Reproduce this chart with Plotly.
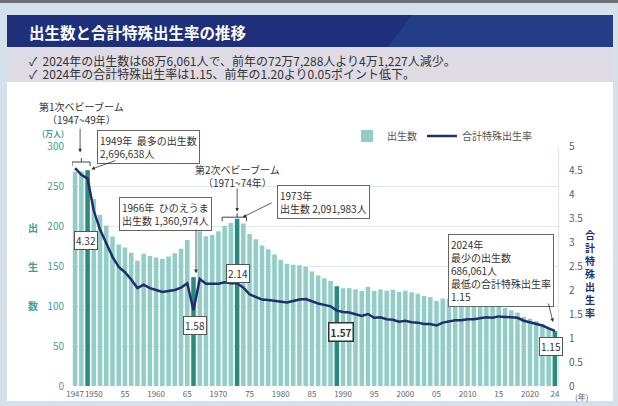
import plotly.graph_objects as go

# ---------------- data ----------------
years = list(range(1947, 2025))
births = [267.9, 268.2, 269.7, 233.8, 213.8, 200.5, 186.8, 177.0, 173.1, 166.5,
          156.7, 165.3, 162.6, 160.6, 158.9, 161.9, 166.0, 171.7, 182.4, 136.1,
          193.5, 187.2, 188.9, 193.4, 200.1, 203.9, 209.2, 203.0, 190.1, 183.3,
          175.5, 170.9, 164.3, 157.7, 152.9, 151.5, 150.9, 149.0, 143.2, 138.3,
          134.7, 131.4, 124.7, 122.2, 122.3, 120.9, 118.8, 123.8, 118.7, 120.7,
          119.2, 120.3, 117.8, 119.1, 117.1, 115.4, 112.4, 111.1, 106.3, 109.3,
          109.0, 109.1, 107.0, 107.1, 105.1, 103.7, 103.0, 100.4, 100.6, 97.7,
          94.6, 91.8, 86.5, 84.1, 81.2, 77.1, 72.7, 68.6]
tfr = [4.54, 4.40, 4.32, 3.65, 3.26, 2.98, 2.69, 2.48, 2.37, 2.22,
       2.04, 2.11, 2.04, 2.00, 1.96, 1.98, 2.00, 2.05, 2.14, 1.58,
       2.23, 2.13, 2.13, 2.13, 2.16, 2.14, 2.14, 2.05, 1.91, 1.85,
       1.80, 1.79, 1.77, 1.75, 1.74, 1.77, 1.80, 1.81, 1.76, 1.72,
       1.69, 1.66, 1.57, 1.54, 1.53, 1.50, 1.46, 1.50, 1.42, 1.43,
       1.39, 1.38, 1.34, 1.36, 1.33, 1.32, 1.29, 1.29, 1.26, 1.32,
       1.34, 1.37, 1.37, 1.39, 1.39, 1.41, 1.43, 1.42, 1.45, 1.44,
       1.43, 1.42, 1.36, 1.33, 1.30, 1.26, 1.20, 1.15]
highlight_years = [1949, 1966, 1973, 1989, 2024]
tick_vals = [1947, 1950, 1955, 1960, 1965, 1970, 1975, 1980, 1985, 1990,
             1995, 2000, 2005, 2010, 2015, 2020, 2024]
tick_text = ['1947', '1950', '55', '1960', '65', '1970', '75', '1980', '85', '1990',
             '95', '2000', '05', '2010', '15', '2020', '24']
left_ticks = [0, 50, 100, 150, 200, 250, 300]
right_ticks = [0, 0.5, 1, 1.5, 2, 2.5, 3, 3.5, 4, 4.5, 5]

# ---------------- style ----------------
FONT = "Noto Sans CJK JP"
LIGHT = "#92cdc7"
DARK = "#2a8a7c"
NAVY = "#1f2e6c"
TEAL_TXT = "#3f9f95"
TXT = "#333333"

L, R, T, B = 72, 60, 146, 20
W, H = 618, 406
PW, PH = W - L - R, H - T - B


def px(x):
    return (x - L) / PW


def py(y):
    return (H - B - y) / PH


colors = [DARK if y in highlight_years else LIGHT for y in years]

fig = go.Figure()
fig.add_trace(go.Bar(x=years, y=births, name="出生数", marker=dict(color=colors, line_width=0),
                     yaxis="y"))
fig.add_trace(go.Scatter(x=years, y=tfr, name="合計特殊出生率", mode="lines",
                         line=dict(color=NAVY, width=2.5), yaxis="y2"))

shapes = []
# page decorations
shapes.append(dict(type="rect", xref="paper", yref="paper", x0=px(7), x1=px(613), y0=py(401), y1=py(82),
                   fillcolor="white", line_width=0, layer="below"))
shapes.append(dict(type="rect", xref="paper", yref="paper", x0=px(7), x1=px(613), y0=py(82), y1=py(47),
                   fillcolor="#dedbe5", line_width=0, layer="below"))
shapes.append(dict(type="rect", xref="paper", yref="paper", x0=px(7), x1=px(613), y0=py(47), y1=py(15),
                   fillcolor="#1d3079", line_width=0, layer="below"))
shapes.append(dict(type="path", xref="paper", yref="paper",
                   path=f"M {px(412)},{py(15)} L {px(613)},{py(15)} L {px(613)},{py(47)} L {px(388)},{py(47)} Z",
                   fillcolor="#2a4893", opacity=0.55, line_width=0, layer="below"))
shapes.append(dict(type="rect", xref="paper", yref="paper", x0=px(0), x1=px(618), y0=py(3), y1=py(0),
                   fillcolor="#6b6f75", line_width=0, layer="below"))


def bracket(x0, x1, ytop, yend, xm, ytick):
    return dict(type="path", xref="x", yref="y",
                path=f"M {x0},{yend} L {x0},{ytop} L {x1},{ytop} L {x1},{yend} M {xm},{ytop} L {xm},{ytick}",
                line=dict(color="#444", width=1))


shapes.append(bracket(1946.5, 1949.4, 280, 275, 1948.0, 285))
shapes.append(bracket(1970.6, 1974.5, 211, 206, 1973.0, 216))

ann = []


def ptext(text, x, y, size, color, xanchor="center"):
    return dict(text=text, xref="paper", yref="paper", x=px(x), y=py(y), xanchor=xanchor,
                yanchor="middle", showarrow=False, font=dict(family=FONT, size=size, color=color))


# header texts
ann.append(ptext("<b>出生数と合計特殊出生率の推移</b>", 27, 32, 15.5, "white", "left"))
ann.append(ptext("✓  2024年の出生数は68万6,061人で、前年の72万7,288人より4万1,227人減少。", 27, 61, 12, TXT, "left"))
ann.append(ptext("✓  2024年の合計特殊出生率は1.15、前年の1.20より0.05ポイント低下。", 27, 74, 12, TXT, "left"))

# axis titles
ann.append(ptext("<b>(万人)</b>", 53, 133, 8, TEAL_TXT))
for ch, yy in zip("出生数", [227, 266, 305]):
    ann.append(ptext(f"<b>{ch}</b>", 33, yy, 10, TEAL_TXT))
ann.append(ptext("<b>" + "<br>".join("合計特殊出生率") + "</b>", 590, 273, 10, NAVY))
ann.append(ptext("(年)", 581, 396, 8, "#555"))


# callout texts
def note(text, x, y, border=True, align="left", yref="y"):
    d = dict(text=text, x=x, y=y, xref="x", yref=yref, xanchor="center", yanchor="middle",
             showarrow=False, align=align, font=dict(family=FONT, size=10, color=TXT))
    if border:
        d.update(bordercolor="#666", borderwidth=1, borderpad=2, bgcolor="white")
    return d


ann.append(note("第1次ベビーブーム<br>（1947~49年）", 1948.1, py(113), border=False, align="center",
                yref="paper"))
ann.append(note("第2次ベビーブーム<br>（1971~74年）", 1973.1, 262, border=False, align="center"))
ann.append(note("1949年  最多の出生数<br>2,696,638人", 1958.7, 299))
ann.append(note("1973年<br>出生数 2,091,983人", 1986.9, 229.5))
ann.append(note("1966年  ひのえうま<br>出生数 1,360,974人", 1961.5, 214.5))
ann.append(note("2024年<br>最少の出生数<br>686,061人<br>最低の合計特殊出生率<br>1.15", 2015.3, 144.5))


def arrow(x, y, ax, ay):
    return dict(text="", x=x, y=y, ax=ax, ay=ay, xref="x", yref="y", axref="x", ayref="y",
                showarrow=True, arrowhead=2, arrowsize=0.9, arrowwidth=0.8, arrowcolor="#333", standoff=0)


ann.append(dict(text="", x=1947.8, y=292, ax=0, ay=-25, xref="x", yref="y",
                showarrow=True, arrowhead=2, arrowsize=0.9, arrowwidth=0.8, arrowcolor="#333", standoff=0))
ann.append(arrow(1949.6, 271, 1953.7, 282.5))
ann.append(arrow(1973.0, 218, 1973.0, 249))
ann.append(arrow(1973.9, 211, 1978.8, 230))
ann.append(arrow(1966.4, 141, 1966.4, 197.5))
ann.append(arrow(2023.7, 80, 2022.9, 105))


# TFR value labels
def vlabel(year, y2, xpos, bold=False):
    v = tfr[years.index(year)]
    t = f"{v:.2f}"
    if bold:
        t = f"<b>{t}</b>"
    return dict(text=t, x=xpos, y=y2, xref="x", yref="y2", xanchor="center", yanchor="middle",
                showarrow=False, font=dict(family=FONT, size=10, color=TXT), bgcolor="white",
                bordercolor="#555" if not bold else "#333", borderwidth=1 if not bold else 1.5,
                borderpad=1)


ann.append(vlabel(1949, 3.04, 1948.8))
ann.append(vlabel(1966, 1.26, 1966.2))
ann.append(vlabel(1973, 2.35, 1973.1))
ann.append(vlabel(1989, 1.125, 1989.7, bold=True))
ann.append(vlabel(2024, 0.82, 2023.4))

fig.update_layout(
    width=W, height=H,
    margin=dict(l=L, r=R, t=T, b=B, pad=0, autoexpand=False),
    paper_bgcolor="#d4e0ea", plot_bgcolor="rgba(0,0,0,0)",
    font=dict(family=FONT, size=10, color=TXT),
    bargap=0.27,
    showlegend=True,
    legend=dict(orientation="h", x=px(537), xanchor="right", y=py(136), yanchor="middle",
                bgcolor="rgba(0,0,0,0)", font=dict(family=FONT, size=10, color="#555"),
                itemwidth=30, tracegroupgap=0, traceorder="normal"),
    xaxis=dict(range=[1946.5, 2024.5], tickvals=tick_vals, ticktext=tick_text, showgrid=False,
               zeroline=False, showline=False, ticks="", tickangle=0, automargin=False,
               tickfont=dict(size=8, color="#666"), ticklabelstandoff=2),
    yaxis=dict(range=[0, 300], tickvals=left_ticks, showgrid=True, gridcolor="#dde8ee", gridwidth=1,
               zeroline=False, showline=False, ticks="", automargin=False,
               tickfont=dict(size=10, color=TEAL_TXT), ticklabelstandoff=7),
    yaxis2=dict(range=[0, 5], tickvals=right_ticks, overlaying="y", side="right", showgrid=False,
                zeroline=False, showline=True, linecolor="#dde8ee", linewidth=1, ticks="",
                automargin=False, tickfont=dict(size=10, color="#4f5b80"), ticklabelstandoff=8),
    shapes=shapes,
    annotations=ann,
)

fig.write_html("out.html")
